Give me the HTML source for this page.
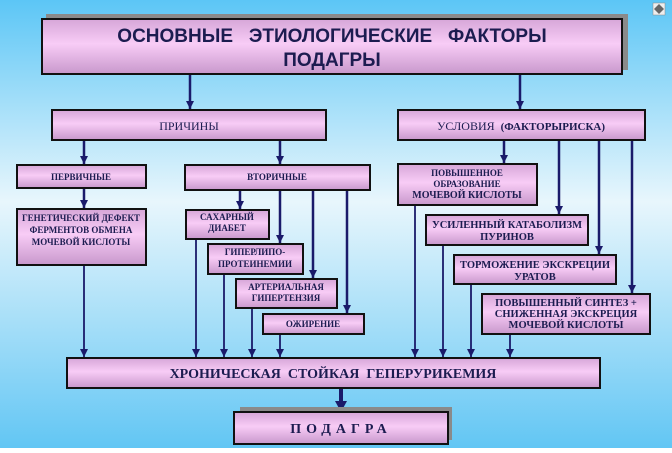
<!DOCTYPE html>
<html><head><meta charset="utf-8"><style>
html,body{margin:0;padding:0}
body{width:672px;height:448px;overflow:hidden}
</style></head><body>
<svg width="672" height="448" viewBox="0 0 672 448" xmlns="http://www.w3.org/2000/svg" font-family="'Liberation Serif', 'Noto Serif CJK SC', serif" font-weight="bold">
<defs>
<linearGradient id="bg" x1="0" y1="0" x2="0" y2="1">
<stop offset="0" stop-color="#5cc6f6"/><stop offset="0.45" stop-color="#e8f6fc"/><stop offset="1" stop-color="#62c6f4"/>
</linearGradient>
<linearGradient id="pk" x1="0" y1="0" x2="0" y2="1">
<stop offset="0" stop-color="#d6a6d8"/><stop offset="0.45" stop-color="#f8ccf6"/><stop offset="1" stop-color="#c898cc"/>
</linearGradient>
<marker id="ah" markerWidth="8" markerHeight="8" refX="8" refY="4" orient="auto" markerUnits="userSpaceOnUse">
<path d="M0,0 L8,4 L0,8 z" fill="#1a1a6a"/>
</marker>
</defs>
<rect width="672" height="448" fill="url(#bg)"/>
<rect x="653" y="3" width="12" height="12" fill="#eee" stroke="#888" stroke-width="0.5"/>
<path d="M659,4 L664,9 L659,14 L654,9 z" fill="#666"/>

<g stroke="#1a1a6a" stroke-width="2.5" fill="none">
<line x1="190" y1="74" x2="190" y2="109" marker-end="url(#ah)"/>
<line x1="520" y1="74" x2="520" y2="109" marker-end="url(#ah)"/>
<line x1="84" y1="140" x2="84" y2="164" marker-end="url(#ah)"/>
<line x1="280" y1="140" x2="280" y2="164" marker-end="url(#ah)"/>
<line x1="84" y1="188" x2="84" y2="208" marker-end="url(#ah)"/>
<line x1="240" y1="190" x2="240" y2="209" marker-end="url(#ah)"/>
<line x1="280" y1="190" x2="280" y2="243" marker-end="url(#ah)"/>
<line x1="313" y1="190" x2="313" y2="278" marker-end="url(#ah)"/>
<line x1="347" y1="190" x2="347" y2="313" marker-end="url(#ah)"/>
<line x1="504" y1="140" x2="504" y2="163" marker-end="url(#ah)"/>
<line x1="559" y1="140" x2="559" y2="214" marker-end="url(#ah)"/>
<line x1="599" y1="140" x2="599" y2="254" marker-end="url(#ah)"/>
<line x1="632" y1="140" x2="632" y2="293" marker-end="url(#ah)"/>
</g>
<g stroke="#1a1a6a" stroke-width="1.8" fill="none">
<line x1="84" y1="265" x2="84" y2="357" marker-end="url(#ah)"/>
<line x1="196" y1="239" x2="196" y2="357" marker-end="url(#ah)"/>
<line x1="224" y1="274" x2="224" y2="357" marker-end="url(#ah)"/>
<line x1="252" y1="308" x2="252" y2="357" marker-end="url(#ah)"/>
<line x1="280" y1="334" x2="280" y2="357" marker-end="url(#ah)"/>
<line x1="415" y1="205" x2="415" y2="357" marker-end="url(#ah)"/>
<line x1="443" y1="245" x2="443" y2="357" marker-end="url(#ah)"/>
<line x1="471" y1="284" x2="471" y2="357" marker-end="url(#ah)"/>
<line x1="510" y1="334" x2="510" y2="357" marker-end="url(#ah)"/>
</g>
<line x1="341" y1="388" x2="341" y2="402" stroke="#1a1a6a" stroke-width="4"/>
<path d="M335,401 L347,401 L341,412 z" fill="#1a1a6a"/>

<rect x="46" y="14" width="582" height="56" fill="#8a8a8a"/>
<rect x="240" y="407" width="212" height="33" fill="#8a8a8a"/>

<g stroke="#111" stroke-width="2" fill="url(#pk)">
<rect x="42" y="19" width="580" height="55"/>
<rect x="52" y="110" width="274" height="30"/>
<rect x="398" y="110" width="247" height="30"/>
<rect x="17" y="165" width="129" height="23"/>
<rect x="185" y="165" width="185" height="25"/>
<rect x="17" y="209" width="129" height="56"/>
<rect x="186" y="210" width="83" height="29"/>
<rect x="208" y="244" width="95" height="30"/>
<rect x="236" y="279" width="101" height="29"/>
<rect x="263" y="314" width="101" height="20"/>
<rect x="398" y="164" width="139" height="41"/>
<rect x="426" y="215" width="162" height="30"/>
<rect x="454" y="255" width="162" height="29"/>
<rect x="482" y="294" width="168" height="40"/>
<rect x="67" y="358" width="533" height="30"/>
<rect x="234" y="412" width="214" height="32"/>
</g>

<g fill="#1c1c50" text-anchor="middle">
<g font-family="'Liberation Sans', 'Noto Sans CJK SC', sans-serif" font-size="19">
<text x="332" y="42" xml:space="preserve">ОСНОВНЫЕ   ЭТИОЛОГИЧЕСКИЕ   ФАКТОРЫ</text>
<text x="332" y="66">ПОДАГРЫ</text>
</g>
<text x="189" y="130" font-size="12" font-weight="normal">ПРИЧИНЫ</text>
<text x="521" y="130" font-size="12" font-weight="normal" xml:space="preserve">УСЛОВИЯ  <tspan font-weight="bold" font-size="11">(ФАКТОРЫРИСКА)</tspan></text>
<g font-size="9">
<text x="81" y="180">ПЕРВИЧНЫЕ</text>
<text x="277" y="180">ВТОРИЧНЫЕ</text>
<text x="81" y="221">ГЕНЕТИЧЕСКИЙ ДЕФЕКТ</text>
<text x="81" y="233">ФЕРМЕНТОВ ОБМЕНА</text>
<text x="81" y="245">МОЧЕВОЙ КИСЛОТЫ</text>
<text x="227" y="220">САХАРНЫЙ</text>
<text x="227" y="231">ДИАБЕТ</text>
<text x="255" y="255">ГИПЕРЛИПО-</text>
<text x="255" y="267">ПРОТЕИНЕМИИ</text>
<text x="286" y="290">АРТЕРИАЛЬНАЯ</text>
<text x="286" y="301">ГИПЕРТЕНЗИЯ</text>
<text x="313" y="327">ОЖИРЕНИЕ</text>
<text x="467" y="176">ПОВЫШЕННОЕ</text>
<text x="467" y="187">ОБРАЗОВАНИЕ</text>
<text x="467" y="198" font-size="10">МОЧЕВОЙ КИСЛОТЫ</text>
</g>
<g font-size="10.5">
<text x="507" y="228">УСИЛЕННЫЙ КАТАБОЛИЗМ</text>
<text x="507" y="240">ПУРИНОВ</text>
<text x="535" y="268">ТОРМОЖЕНИЕ ЭКСКРЕЦИИ</text>
<text x="535" y="280">УРАТОВ</text>
<text x="566" y="306">ПОВЫШЕННЫЙ СИНТЕЗ +</text>
<text x="566" y="317">СНИЖЕННАЯ ЭКСКРЕЦИЯ</text>
<text x="566" y="328">МОЧЕВОЙ КИСЛОТЫ</text>
</g>
<text x="333" y="378" font-size="14" xml:space="preserve">ХРОНИЧЕСКАЯ  СТОЙКАЯ  ГЕПЕРУРИКЕМИЯ</text>
<text x="341" y="433" font-size="14" letter-spacing="5">ПОДАГРА</text>
</g>
</svg>
</body></html>
